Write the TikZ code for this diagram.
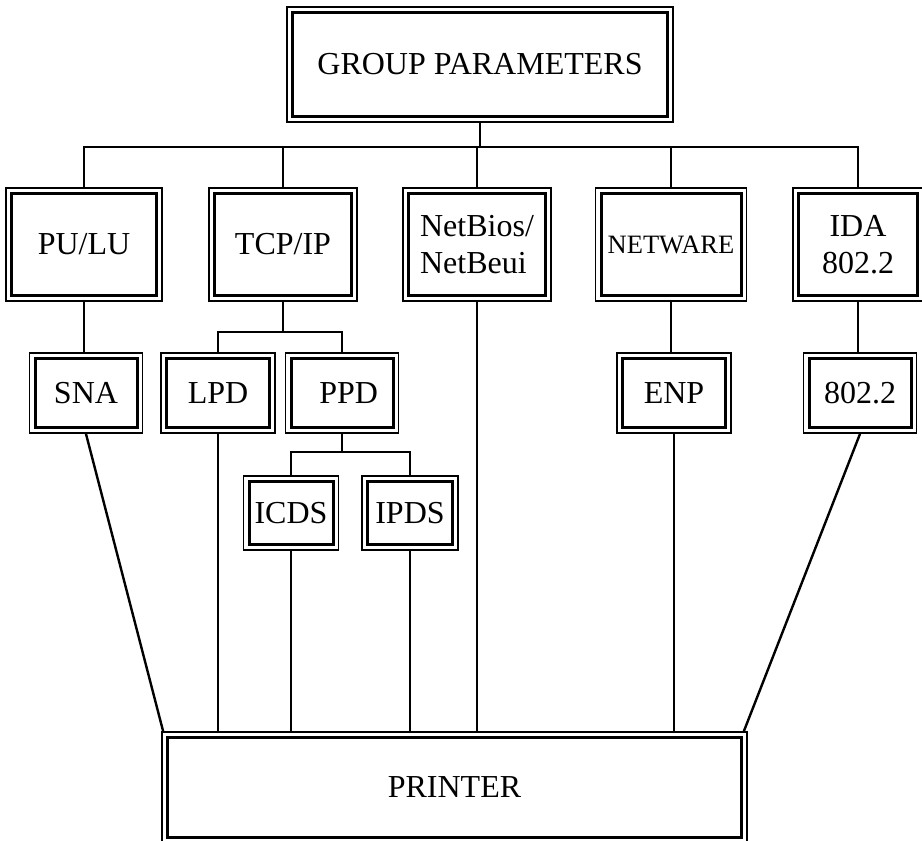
\documentclass[tikz,border=0pt]{standalone}
\usepackage{fontspec}
\setmainfont{Liberation Serif}
\usetikzlibrary{calc}

\tikzset{
  dbox/.style={draw, line width=1.8pt, inner sep=0pt, align=center,
    font=\fontsize{32}{37}\selectfont,
    path picture={\draw[line width=3pt]
      ([shift={(5.5pt,-5.5pt)}]path picture bounding box.north west) rectangle
      ([shift={(-5.5pt,5.5pt)}]path picture bounding box.south east);}},
  link/.style={line width=2.4pt},
}

\begin{document}
\begin{tikzpicture}[x=1pt, y=-1pt]
    \useasboundingbox (0,0) rectangle (922,841);

    % Top box
    \node[dbox, minimum width=386pt, minimum height=115pt] (gp) at (480,64.5) {GROUP PARAMETERS};

    % Protocol row
    \node[dbox, minimum width=156pt, minimum height=113pt] (pulu) at (84,244.5) {PU/LU};
    \node[dbox, minimum width=148pt, minimum height=113pt] (tcpip) at (283,244.5) {TCP/IP};
    \node[dbox, minimum width=148pt, minimum height=113pt, align=left] (netbios) at (477,244.5) {NetBios/\\NetBeui};
    \node[dbox, minimum width=151pt, minimum height=113pt, font=\fontsize{26.5}{31}\selectfont] (netware) at (671,244.5) {NETWARE};
    \node[dbox, minimum width=130pt, minimum height=113pt] (ida) at (858,244.5) {IDA\\802.2};

    % Second row
    \node[dbox, minimum width=113pt, minimum height=80pt] (sna) at (86,393) {SNA};
    \node[dbox, minimum width=114pt, minimum height=80pt] (lpd) at (218,393) {LPD};
    \node[dbox, minimum width=113pt, minimum height=80pt] (ppd) at (342,393) {\, PPD};
    \node[dbox, minimum width=114pt, minimum height=80pt] (enp) at (674,393) {ENP};
    \node[dbox, minimum width=113pt, minimum height=80pt] (ieee) at (860,393) {802.2};

    % Third row
    \node[dbox, minimum width=95pt, minimum height=74pt] (icds) at (291,513) {ICDS};
    \node[dbox, minimum width=96pt, minimum height=74pt] (ipds) at (410,513) {IPDS};

    % Printer
    \node[dbox, minimum width=585pt, minimum height=111pt] (printer) at (454.5,787.5) {PRINTER};

    % Group bus
    \coordinate (gpbus) at (480,147);
    \draw[link] (gp.south) -- (gpbus);
    \draw[link] (pulu.north) |- (gpbus) -| (ida.north);
    \foreach \n in {tcpip,netbios,netware}
        \draw[link] (\n.north) -- (\n.north |- gpbus);

    % Protocol to driver
    \draw[link] (pulu.south) -- (pulu.south |- sna.north);
    \draw[link] (netware.south) -- (netware.south |- enp.north);
    \draw[link] (ida.south) -- (ida.south |- ieee.north);

    % TCP/IP bus
    \coordinate (tcpbus) at (283,332);
    \draw[link] (tcpip.south) -- (tcpbus);
    \draw[link] (lpd.north) |- (tcpbus) -| (ppd.north);

    % PPD bus
    \coordinate (ppdbus) at (342,452);
    \draw[link] (ppd.south) -- (ppdbus);
    \draw[link] (icds.north) |- (ppdbus) -| (ipds.north);

    % Down to printer
    \foreach \n in {lpd,icds,ipds,netbios,enp}
        \draw[link] (\n.south) -- (\n.south |- printer.north);
    \draw[link] (sna.south) -- ([xshift=2pt]printer.north west);
    \draw[link] (ieee.south) -- ([xshift=-4pt]printer.north east);
\end{tikzpicture}
\end{document}
